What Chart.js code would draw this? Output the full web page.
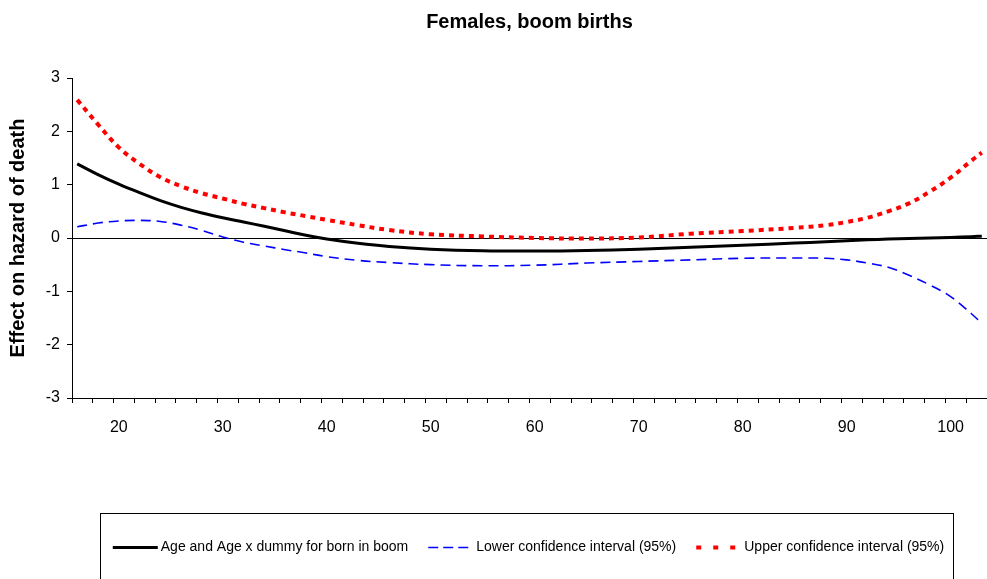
<!DOCTYPE html>
<html><head><meta charset="utf-8">
<script src="https://cdn.jsdelivr.net/npm/chart.js@4/dist/chart.umd.min.js"></script>
<style>html,body{margin:0;padding:0;background:#fff;} #wrap{width:987px;height:579px;position:relative;}</style>
</head><body><div id="wrap"><canvas id="c" width="987" height="579"></canvas></div>
<script>
const ages = [16,18,20,22,24,26,28,30,32,34,36,38,40,43,46,50,55,60,65,70,75,80,85,88,90,92,94,96,98,100,102,103];
const estimate = [1.39,1.19,1.01,0.85,0.70,0.575,0.47,0.38,0.30,0.22,0.135,0.05,-0.02,-0.10,-0.16,-0.21,-0.24,-0.245,-0.235,-0.21,-0.175,-0.135,-0.095,-0.07,-0.05,-0.035,-0.02,-0.01,0.0,0.01,0.025,0.035];
const lowerCI = [0.21,0.28,0.32,0.33,0.31,0.24,0.14,0.02,-0.08,-0.15,-0.22,-0.28,-0.35,-0.42,-0.46,-0.50,-0.52,-0.51,-0.47,-0.44,-0.41,-0.38,-0.375,-0.38,-0.41,-0.47,-0.55,-0.70,-0.88,-1.10,-1.42,-1.60];
const upperCI = [2.59,2.13,1.70,1.39,1.14,0.97,0.84,0.74,0.64,0.56,0.48,0.41,0.34,0.24,0.15,0.07,0.03,0.0,-0.01,0.01,0.08,0.13,0.19,0.24,0.30,0.38,0.50,0.65,0.87,1.13,1.45,1.60];
const xTickLabels = [20,30,40,50,60,70,80,90,100];
const yTickValues = [-3,-2,-1,0,1,2,3];
const seriesNames = ['Age and Age x dummy for born in boom','Lower confidence interval (95%)','Upper confidence interval (95%)'];
const chartTitle = 'Females, boom births';
const yTitle = 'Effect on hazard of death';

const FONT = '"Liberation Sans", Arial, Helvetica, sans-serif';
Chart.defaults.font.family = FONT;
Chart.defaults.color = '#000';

const pts = arr => ages.map((a, i) => ({x: a, y: arr[i]}));
const SYMBOL_LEN = 45;

const legendFrame = {
  id: 'legendFrame',
  afterLayout(chart) {
    const lg = chart.legend;
    lg.left += 35; lg.right += 35;
  },
  afterDraw(chart) {
    const lg = chart.legend;
    const hb = lg.legendHitBoxes;
    if (!hb || !hb.length) return;
    const ctx = chart.ctx;
    ctx.save();
    hb.forEach((h, i) => {
      const ds = chart.data.datasets[i];
      const y = Math.round(h.top + h.height / 2) + 0.5;
      ctx.beginPath();
      ctx.strokeStyle = ds.borderColor;
      ctx.lineWidth = ds.borderWidth;
      ctx.lineCap = 'butt';
      ctx.setLineDash(ds.legendDash || ds.borderDash || []);
      ctx.moveTo(h.left, y);
      ctx.lineTo(h.left + SYMBOL_LEN, y);
      ctx.stroke();
    });
    ctx.setLineDash([]);
    const l = Math.min(...hb.map(h => h.left)) - 13;
    const r = Math.max(...hb.map(h => h.left + h.width)) + 9;
    const t = lg.top - 7;
    ctx.strokeStyle = '#000';
    ctx.lineWidth = 1;
    ctx.strokeRect(Math.round(l) + 0.5, Math.round(t) + 0.5, Math.round(r - l), chart.height - t + 10);
    ctx.restore();
  }
};

new Chart(document.getElementById('c'), {
  type: 'line',
  data: {
    datasets: [
      {label: seriesNames[0], data: pts(estimate), borderColor: '#000', backgroundColor: '#000', borderWidth: 3, pointRadius: 0, tension: 0.4, fill: false},
      {label: seriesNames[1], data: pts(lowerCI), borderColor: '#0000ff', backgroundColor: '#0000ff', borderWidth: 1.6, borderDash: [10, 6], legendDash: [10, 5], pointRadius: 0, tension: 0.4, fill: false},
      {label: seriesNames[2], data: pts(upperCI), borderColor: '#ff0000', backgroundColor: '#ff0000', borderWidth: 4, borderDash: [5, 5], legendDash: [5, 12], borderCapStyle: 'butt', pointRadius: 0, tension: 0.4, fill: false}
    ]
  },
  options: {
    responsive: false,
    animation: false,
    devicePixelRatio: 1,
    layout: {padding: {left: 0, right: 0, top: 0, bottom: 15}},
    plugins: {
      title: {display: true, text: chartTitle, fullSize: false, color: '#000', font: {size: 20, weight: 'bold', family: FONT}, padding: {top: 10, bottom: 44}},
      legend: {
        position: 'bottom',
        labels: {
          usePointStyle: true, pointStyle: 'line', pointStyleWidth: SYMBOL_LEN - 4, boxHeight: 14, padding: 20, color: '#000', font: {size: 14, family: FONT},
          generateLabels(chart) {
            const items = Chart.defaults.plugins.legend.labels.generateLabels(chart);
            items.forEach(it => { it.strokeStyle = 'rgba(0,0,0,0)'; it.fillStyle = 'rgba(0,0,0,0)'; it.lineWidth = 0; });
            return items;
          }
        }
      },
      tooltip: {enabled: false}
    },
    scales: {
      x: {
        type: 'linear', min: 15.5, max: 103.5,
        afterBuildTicks(scale) {
          const t = [];
          for (let v = 15.5; v <= 103.5; v += 2) t.push(v);
          xTickLabels.forEach(v => t.push(v));
          t.sort((a, b) => a - b);
          scale.ticks = t.map(v => ({value: v}));
        },
        afterFit(scale) { scale.height = 122; scale.paddingRight = 0; scale.paddingLeft = 0; },
        ticks: {autoSkip: false, maxRotation: 0, padding: 15, color: '#000', font: {size: 16, family: FONT},
          callback: v => xTickLabels.includes(v) ? String(v) : ''},
        grid: {drawOnChartArea: false, drawTicks: true, tickLength: 5, tickWidth: 1,
          tickColor: c => (c.tick && xTickLabels.includes(c.tick.value)) ? 'rgba(0,0,0,0)' : '#000'},
        border: {display: true, color: '#000', width: 1}
      },
      y: {
        min: -3, max: 3,
        afterBuildTicks(scale) { scale.ticks = yTickValues.map(v => ({value: v})); },
        afterFit(scale) { scale.width = 72; },
        ticks: {padding: 7, color: '#000', font: {size: 16, family: FONT}},
        grid: {drawOnChartArea: true, drawTicks: true, tickLength: 5, tickColor: '#000',
          color: c => (c.tick && c.tick.value === 0) ? '#000' : 'rgba(0,0,0,0)', lineWidth: 1},
        border: {display: true, color: '#000', width: 1},
        title: {display: true, text: yTitle, color: '#000', font: {size: 20, weight: 'bold', family: FONT}, padding: {top: 6, bottom: 4}}
      }
    }
  },
  plugins: [legendFrame]
});
</script></body></html>
